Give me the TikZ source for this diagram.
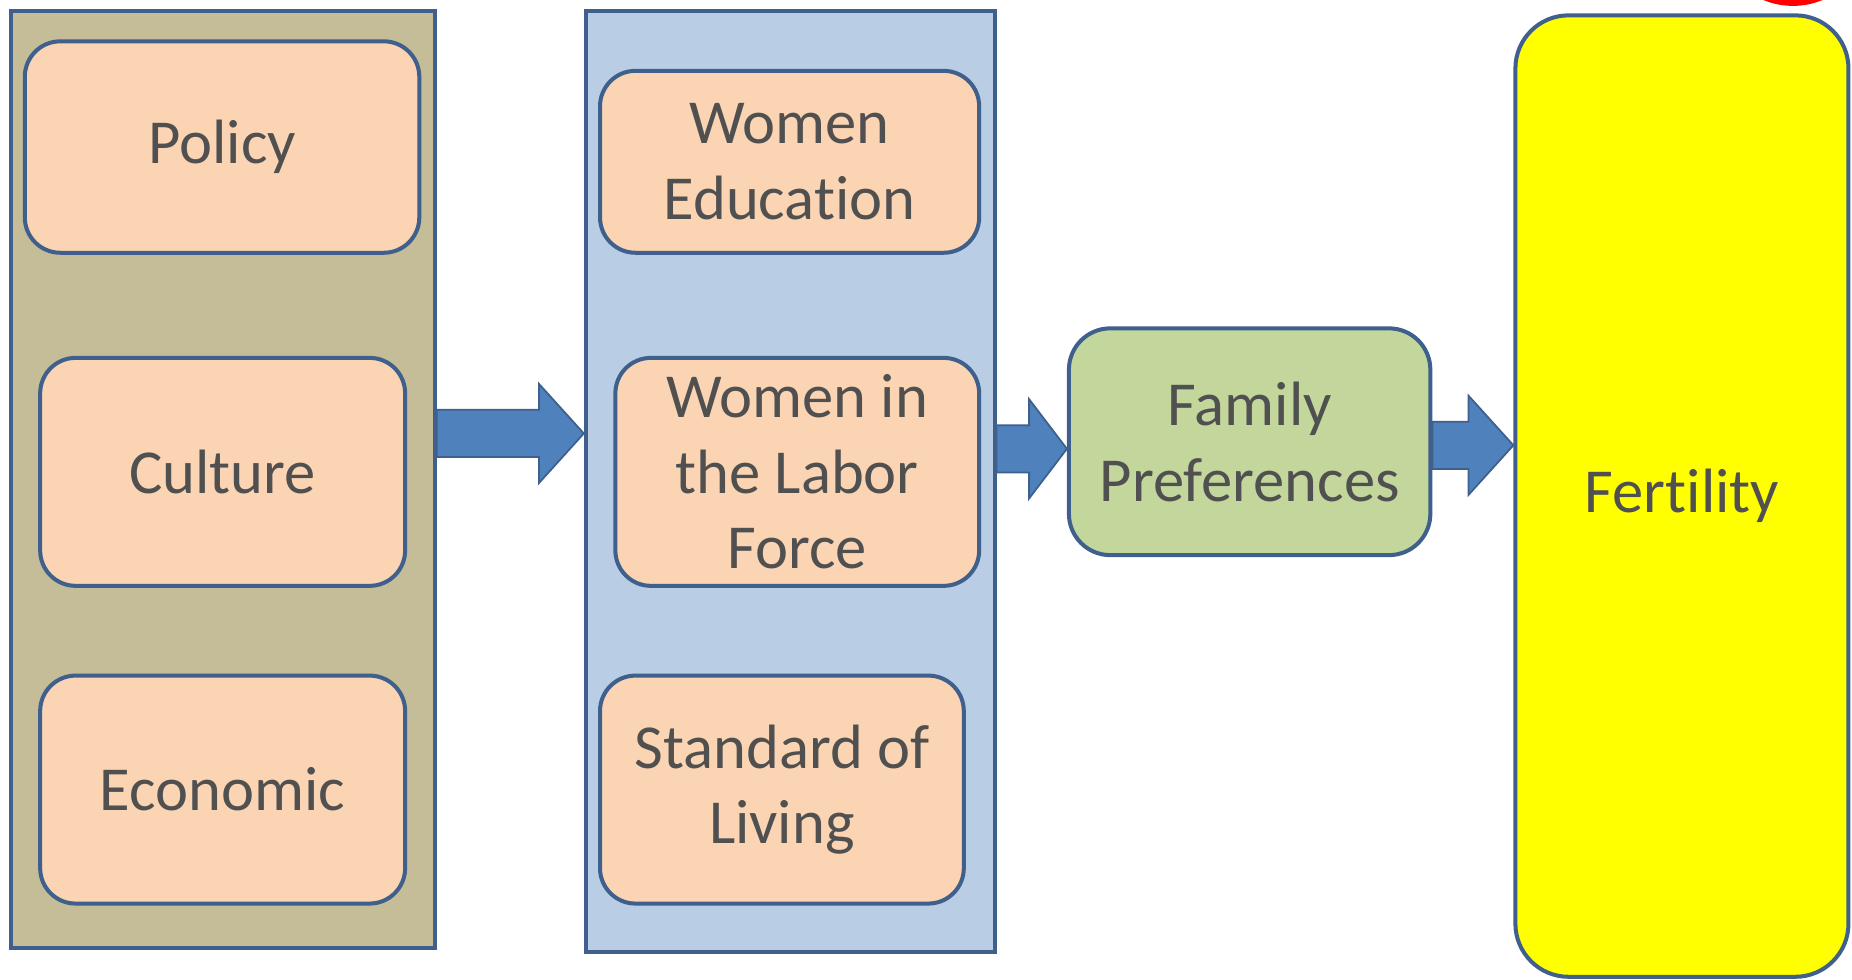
\documentclass[tikz,border=0pt]{standalone}
\usepackage{fontspec}
\setmainfont{Carlito}[Ligatures=NoCommon]
\usetikzlibrary{calc}
\definecolor{edgeblue}{HTML}{3F5F8C}
\definecolor{tanfill}{HTML}{C4BD97}
\definecolor{bluefill}{HTML}{B9CDE5}
\definecolor{peach}{HTML}{FBD4B4}
\definecolor{greenfill}{HTML}{C3D69B}
\definecolor{arrowfill}{HTML}{4F81BD}
\definecolor{txt}{HTML}{505050}
\definecolor{pureyellow}{HTML}{FFFF00}
\tikzset{
  panel/.style={draw=edgeblue, line width=3.4pt, rectangle, inner sep=0pt},
  itembox/.style={draw=edgeblue, line width=3.4pt, rectangle, rounded corners=30pt,
    fill=peach, inner sep=0pt, align=center, text=txt,
    font=\fontsize{53pt}{64pt}\selectfont},
  fatarrow/.style={fill=arrowfill, draw=edgeblue, line width=1.5pt, line join=miter}
}
\newcommand{\blockarrow}[3]{%
  \path let \p1=(#1), \p2=(#2) in
    [fatarrow] (\x1,\y1+20pt) -- (\x2-#3,\y1+20pt) -- (\x2-#3,\y1+42pt) -- (\x2,\y1)
    -- (\x2-#3,\y1-42pt) -- (\x2-#3,\y1-20pt) -- (\x1,\y1-20pt) -- cycle;}
\begin{document}
\begin{tikzpicture}[x=1pt,y=-1pt]
\useasboundingbox (0,0) rectangle (1568,829);
\clip (0,0) rectangle (1568,829);
% red circle sliver at top right
\fill[red] (1518,-60) circle (65);
% left panel
\node[panel, fill=tanfill, minimum width=359pt, minimum height=794pt] (L) at (188.5,406) {};
\node[itembox, minimum width=334pt, minimum height=179pt] (pol) at (188,124.5) {Policy};
\node[itembox, minimum width=309pt, minimum height=193pt] (cul) at (188.5,399.5) {Culture};
\node[itembox, minimum width=309pt, minimum height=193pt] (eco) at (188.5,668.5) {Economic};
% middle panel
\node[panel, fill=bluefill, minimum width=346pt, minimum height=797pt] (M) at (669,407.5) {};
\node[itembox, minimum width=321pt, minimum height=154pt] (wed) at (668.5,137) {Women\\Educat\kern0pt ion};
\node[itembox, minimum width=308pt, minimum height=193pt] (wlf) at (675,399.5) {Women in\\the Labor\\Force};
\node[itembox, minimum width=308pt, minimum height=193pt] (sol) at (662,668.5) {Standard of\\Living};
% family preferences
\node[itembox, fill=greenfill, rounded corners=35pt, minimum width=306pt, minimum height=192pt] (F) at (1058,374) {Family\\Preferences};
% fertility
\node[itembox, fill=pureyellow, rounded corners=45pt, minimum width=282pt, minimum height=814pt] (T) at (1424,420) {Fert\kern0pt ility};
% arrows
\coordinate (a1s) at (L.east |- 0,367);
\coordinate (a1e) at (M.west |- 0,367);
\coordinate (a2s) at (M.east |- 0,380);
\coordinate (a2e) at (F.west |- 0,380);
\coordinate (a3s) at (F.east |- 0,377);
\coordinate (a3e) at (T.west |- 0,377);
\blockarrow{a1s}{a1e}{38pt}
\blockarrow{a2s}{a2e}{32pt}
\blockarrow{a3s}{a3e}{38pt}
\end{tikzpicture}
\end{document}
